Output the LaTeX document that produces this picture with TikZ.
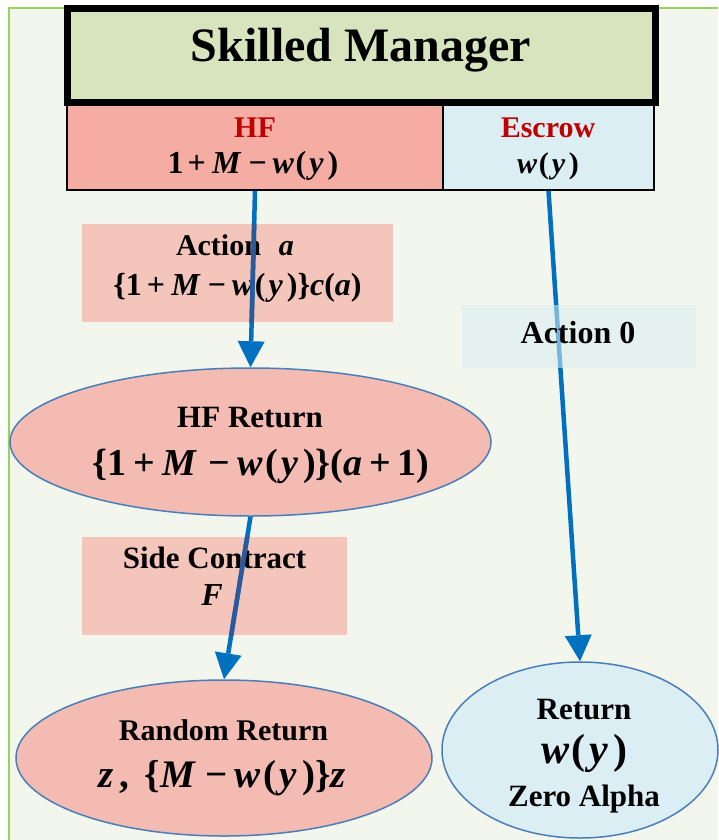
\documentclass[tikz,border=0pt]{standalone}
\usepackage{fontspec}
\setmainfont{Liberation Serif}
\usetikzlibrary{arrows.meta,shapes.geometric}

\definecolor{bgcol}{HTML}{F2F6EC}
\definecolor{framecol}{HTML}{9AD25E}
\definecolor{titlefill}{HTML}{D7E4BD}
\definecolor{hffill}{HTML}{F5ACA3}
\definecolor{escfill}{HTML}{DBEEF3}
\definecolor{pinkbox}{HTML}{F4C5BA}
\definecolor{pinkell}{HTML}{F4BBB2}
\definecolor{ellline}{HTML}{4A7EBB}
\definecolor{arrowblue}{HTML}{0070C0}
\definecolor{arrowdark}{HTML}{2A5A9C}
\definecolor{redtxt}{HTML}{C00000}

% italic variables and the true minus sign
\newcommand\mv[1]{\textit{#1}}
\newcommand\mminus{\char"2212\relax}
\newcommand\wofy{\mv{w}\kern.05em(\kern.1em\mv{y}\kern.12em)}

\begin{document}
\begin{tikzpicture}[x=1pt,y=-1pt,
  txt/.style={anchor=base,inner sep=0pt,font=\fontsize{30}{36}\selectfont\bfseries},
  formtxt/.style={anchor=base,inner sep=0pt,font=\fontsize{32}{38}\selectfont\bfseries},
  bigtxt/.style={anchor=base,inner sep=0pt,font=\fontsize{38}{44}\selectfont\bfseries},
  cell/.style={draw=black,line width=1.5pt,rectangle,inner sep=0pt},
  labelbox/.style={rectangle,inner sep=0pt,draw=none},
  oval/.style={ellipse,draw=ellline,line width=1.5pt,inner sep=0pt},
  flow/.style={color=arrowblue,line width=4.5pt,
    -{Triangle[length=26pt,width=27pt,fill=arrowblue,line width=0pt]}},
  shaded/.style={color=arrowdark,line width=4.5pt}
]
\useasboundingbox (0,0) rectangle (718,840);
\fill[white] (0,0) rectangle (718,840);
\fill[bgcol] (9,8) rectangle (718,840);
\draw[framecol,line width=2pt] (9,840) -- (9,8) -- (718,8);

% account boxes under the title
\node[cell,fill=hffill,minimum width=376pt,minimum height=86pt] (hfbox) at (255,147) {};
\node[cell,fill=escfill,minimum width=211pt,minimum height=86pt] (escbox) at (548.5,147) {};
% title
\node[draw=black,line width=7pt,fill=titlefill,rectangle,inner sep=0pt,
      minimum width=588pt,minimum height=94pt] (title) at (361.5,55.5) {};
\node[anchor=base,inner sep=0pt,font=\fontsize{48}{56}\selectfont\bfseries] (titletxt) at (361,62) {Skilled Manager};

\node[txt,text=redtxt] (hflbl) at (255,137) {HF};
\node[formtxt] (hfform) at (253,173) {1\kern.12em+\kern.2em\mv{M}\kern.22em\mminus\kern.18em\wofy};
\node[txt,text=redtxt] (esclbl) at (548,137) {Escrow};
\node[txt] (escform) at (548,173) {\wofy};

% pink label boxes
\node[labelbox,fill=pinkbox,minimum width=311pt,minimum height=98pt] (actbox) at (237.5,273) {};
\node[labelbox,fill=pinkbox,minimum width=265pt,minimum height=98pt] (sidebox) at (214,586) {};

% outcome ellipses
\node[oval,fill=pinkell,minimum width=481pt,minimum height=148pt] (hfret) at (250.5,442) {};
\node[oval,fill=pinkell,minimum width=416pt,minimum height=156pt] (randret) at (224,758) {};
\node[oval,fill=escfill,minimum width=276pt,minimum height=176pt] (ret) at (580,750) {};

% texts
\node[txt] (acttxt) at (235,255) {Action\hspace{0.6em}\mv{a}};
\node[formtxt] (actform) at (237.5,295) {\{1\kern.15em+\kern.2em\mv{M}\kern.22em\mminus\kern.18em\wofy\}\mv{c}(\mv{a})};
\node[txt,font=\fontsize{31}{36}\selectfont\bfseries] (hfrettxt) at (250,427) {HF Return};
\node[bigtxt] (hfretform) at (261,475) {\{1\kern.18em+\kern.2em\mv{M}\kern.3em\mminus\kern.2em\wofy\}(\mv{a}\kern.18em+\kern.18em1)};
\node[txt,font=\fontsize{31}{36}\selectfont\bfseries] (sidetxt) at (214.5,568) {Side Contract};
\node[txt,font=\fontsize{32}{36}\selectfont\bfseries] (sideF) at (212,605) {\mv{F}};
\node[txt] (randtxt) at (223.5,740) {Random Return};
\node[bigtxt,font=\fontsize{39}{44}\selectfont\bfseries] (randform) at (222,787) {\mv{z}\kern.15em,\kern.4em\{\mv{M}\kern.25em\mminus\kern.18em\wofy\}\mv{z}};
\node[txt,font=\fontsize{31}{36}\selectfont\bfseries] (rettxt) at (584,719) {Return};
\node[txt,font=\fontsize{42}{48}\selectfont\bfseries] (retform) at (584.5,763) {\wofy};
\node[txt,font=\fontsize{31}{36}\selectfont\bfseries] (zerotxt) at (584,806) {Zero Alpha};

% connectors
\draw[flow] (hfbox.south) -- (hfret.north);
\draw[flow] (hfret.south) -- (randret.north);
\draw[flow] (escbox.south) -- (ret.north);

% the shafts take a darker tone where they cross the pink boxes
\begin{scope}
\clip (actbox.north west) rectangle (actbox.south east);
\draw[shaded] (hfbox.south) -- (hfret.north);
\end{scope}
\begin{scope}
\clip (sidebox.north west) rectangle (sidebox.south east);
\draw[shaded] (hfret.south) -- (randret.north);
\end{scope}

% translucent label over the escrow connector
\node[labelbox,fill=escfill,fill opacity=0.55,minimum width=234pt,minimum height=63pt] (act0box) at (579,336.5) {};
\node[txt,font=\fontsize{32}{36}\selectfont\bfseries] (act0txt) at (578,343) {Action 0};
\end{tikzpicture}
\end{document}
